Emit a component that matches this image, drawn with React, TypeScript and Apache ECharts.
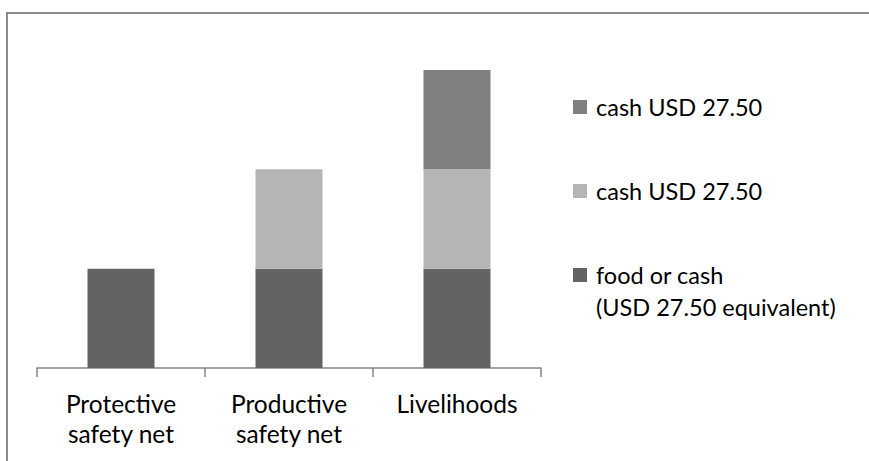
import React, { useEffect, useRef } from "react";
import * as echarts from "echarts";

const categories = ["Protective\nsafety net", "Productive\nsafety net", "Livelihoods"];
const foodOrCash = [27.5, 27.5, 27.5];
const cashSecond = [null, 27.5, 27.5];
const cashThird = [null, null, 27.5];
const seriesNames = ["food or cash (USD 27.50 equivalent)", "cash USD 27.50 (second)", "cash USD 27.50 (third)"];
const legendLabels = ["cash USD 27.50", "cash USD 27.50", "food or cash\n(USD 27.50 equivalent)"];
const legendColors = ["#808080", "#b5b5b5", "#636363"];
const seriesColors = ["#636363", "#b5b5b5", "#808080"];

const FONT = "Lato, 'Open Sans', sans-serif";

export default function App() {
  const ref = useRef<HTMLDivElement>(null);
  useEffect(() => {
    if (!ref.current) return;
    const chart = echarts.init(ref.current, undefined, { renderer: "svg" });
    const data = [foodOrCash, cashSecond, cashThird];
    const legendGraphics: any[] = [];
    const centers = [107, 191, 275];
    legendLabels.forEach((label, i) => {
      legendGraphics.push({
        type: "rect",
        shape: { x: 573, y: centers[i] - 7, width: 14, height: 14 },
        style: { fill: legendColors[i] },
        silent: true,
      });
      legendGraphics.push({
        type: "text",
        x: 596,
        y: centers[i] - 16,
        style: {
          text: label,
          font: `23.5px ${FONT}`,
          fill: "#000",
          lineHeight: 32,
          verticalAlign: "top",
          align: "left",
        },
        silent: true,
      });
    });
    chart.setOption({
      animation: false,
      backgroundColor: "#fff",
      grid: { left: 37, right: 328, top: 70, bottom: 93, containLabel: false },
      xAxis: {
        type: "category",
        data: categories,
        boundaryGap: true,
        axisLine: { lineStyle: { color: "#868686", width: 1.5 } },
        axisTick: { show: true, length: 9, alignWithLabel: false, interval: 0, lineStyle: { color: "#868686", width: 1.5 } },
        axisLabel: {
          interval: 0,
          color: "#000",
          fontFamily: FONT,
          fontSize: 24.5,
          lineHeight: 30,
          margin: 20,
        },
        splitLine: { show: false },
      },
      yAxis: {
        type: "value",
        min: 0,
        max: 82.5,
        show: false,
        splitLine: { show: false },
      },
      series: data.map((d, i) => ({
        type: "bar",
        name: seriesNames[i],
        stack: "total",
        data: d,
        barWidth: 67,
        itemStyle: { color: seriesColors[i] },
      })),
      graphic: [
        {
          type: "line",
          shape: { x1: 7, y1: 13, x2: 7, y2: 480 },
          style: { stroke: "#8a8a8a", lineWidth: 2 },
          silent: true,
          z: -1,
        },
        {
          type: "line",
          shape: { x1: 6, y1: 13, x2: 869, y2: 13 },
          style: { stroke: "#8a8a8a", lineWidth: 2 },
          silent: true,
          z: -1,
        },
        ...legendGraphics,
      ],
    });
    return () => chart.dispose();
  }, []);
  return <div ref={ref} style={{ position: "fixed", left: 0, top: 0, width: 869, height: 461, overflow: "hidden" }} />;
}
